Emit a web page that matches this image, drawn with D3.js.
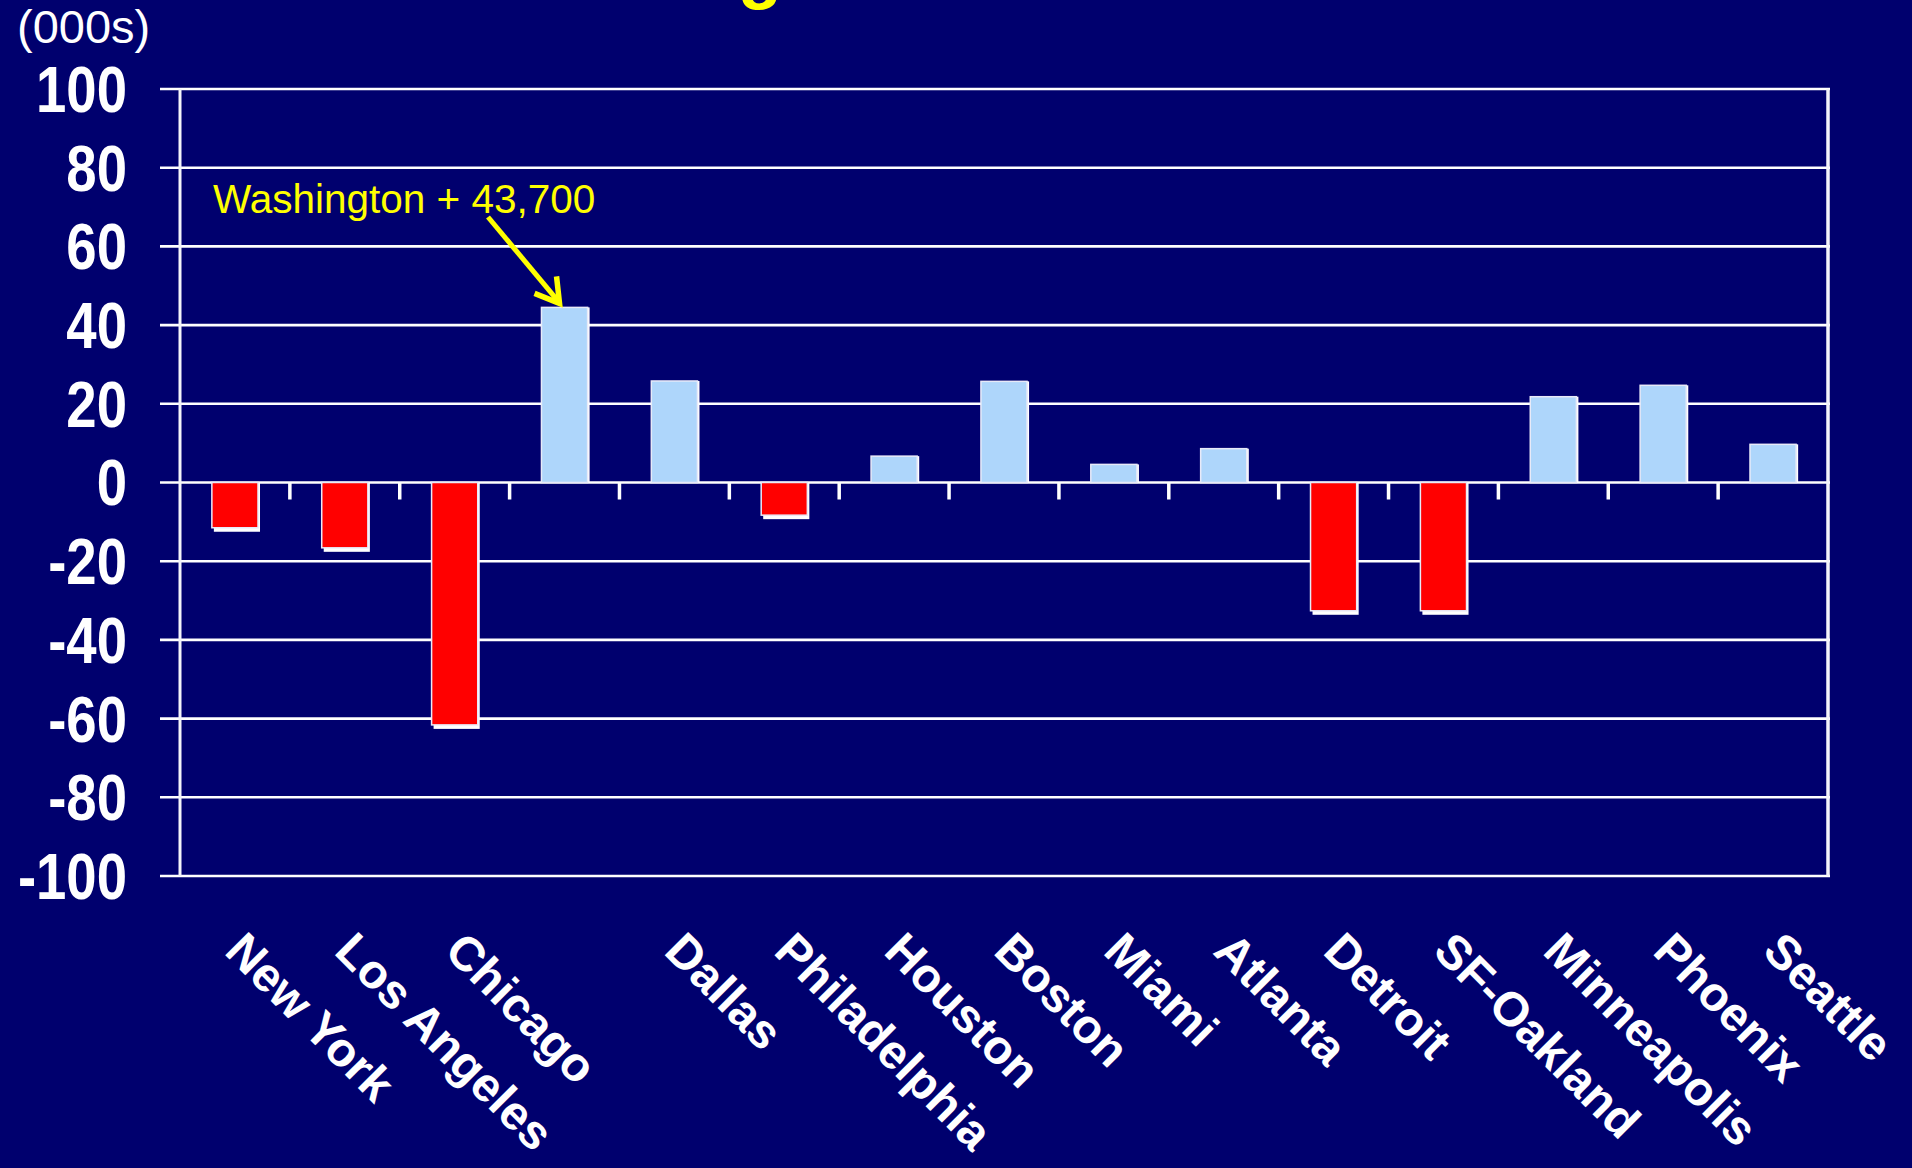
<!DOCTYPE html>
<html>
<head>
<meta charset="utf-8">
<script src="https://cdn.jsdelivr.net/npm/d3@7"></script>
<style>
  html, body { margin: 0; padding: 0; background: #00006e; }
  svg { display: block; }
  text { font-family: "Liberation Sans", Arial, sans-serif; }
</style>
</head>
<body>
<svg id="chart" width="1912" height="1168"></svg>
<script>
// ---- data ----
const categories = ["New York", "Los Angeles", "Chicago", "Washington", "Dallas", "Philadelphia",
  "Houston", "Boston", "Miami", "Atlanta", "Detroit", "SF-Oakland", "Minneapolis", "Phoenix", "Seattle"];
const tickLabels = ["New York", "Los Angeles", "Chicago", "", "Dallas", "Philadelphia",
  "Houston", "Boston", "Miami", "Atlanta", "Detroit", "SF-Oakland", "Minneapolis", "Phoenix", "Seattle"];
const values = [-11.5, -16.6, -61.6, 44.5, 25.8, -8.3, 6.7, 25.7, 4.6, 8.6, -32.6, -32.6, 21.8, 24.7, 9.7];
const yTickValues = [100, 80, 60, 40, 20, 0, -20, -40, -60, -80, -100];
const unitLabel = "(000s)";
const annotationText = "Washington + 43,700";

(function () {
  // ---- layout ----
  const svg = d3.select("#chart");
  const W = 1912, H = 1168;
  const plotLeft = 180, plotRight = 1828, plotTop = 89, plotBottom = 876;
  const bg = "#00006e", posColor = "#aed6fb", negColor = "#ff0000", yellow = "#ffff00";

  svg.append("rect").attr("width", W).attr("height", H).attr("fill", bg);

  const x = d3.scaleBand().domain(categories).range([plotLeft, plotRight]).paddingInner(0.58).paddingOuter(0.29);
  const y = d3.scaleLinear().domain([-100, 100]).range([plotBottom, plotTop]);
  const step = x.step();

  // cut-off title glyph at the very top (title itself lies above the frame)
  svg.append("text").attr("x", 738).attr("y", -5).attr("fill", yellow)
    .attr("font-size", 72).attr("font-weight", "bold").text("g");

  // gridlines (extend left of axis as tick marks)
  svg.append("g").selectAll("line").data(yTickValues).join("line")
    .attr("x1", 160).attr("x2", plotRight + 2)
    .attr("y1", d => y(d)).attr("y2", d => y(d))
    .attr("stroke", "#ffffff").attr("stroke-width", 2.6);

  // left axis & right border
  svg.append("line").attr("x1", plotLeft).attr("x2", plotLeft).attr("y1", y(100)).attr("y2", y(-100))
    .attr("stroke", "#f4f4fa").attr("stroke-width", 3);
  svg.append("line").attr("x1", plotRight).attr("x2", plotRight).attr("y1", y(100)).attr("y2", y(-100))
    .attr("stroke", "#f4f4fa").attr("stroke-width", 3.5);

  // category boundary ticks below zero line
  const boundaries = categories.slice(0, -1).map(c => x(c) + x.bandwidth() + (step - x.bandwidth()) / 2);
  svg.append("g").selectAll("line").data(boundaries).join("line")
    .attr("x1", d => d).attr("x2", d => d)
    .attr("y1", y(0)).attr("y2", y(0) + 17)
    .attr("stroke", "#ffffff").attr("stroke-width", 3.5);

  // y tick labels (slightly condensed, tall)
  svg.append("g").selectAll("text").data(yTickValues).join("text")
    .attr("transform", d => `translate(127,${y(d)}) scale(0.94,1.12)`)
    .attr("y", 20.5)
    .attr("text-anchor", "end").attr("fill", "#ffffff")
    .attr("font-size", 58).attr("font-weight", "bold")
    .text(d => d);

  svg.append("text").attr("x", 17).attr("y", 43).attr("fill", "#ffffff")
    .attr("font-size", 47).text(unitLabel);

  // bars
  const data = categories.map((c, i) => ({ c, v: values[i] }));
  const bars = svg.append("g");
  bars.selectAll("rect.shadow").data(data).join("rect").attr("class", "shadow")
    .attr("x", d => x(d.c) + 2)
    .attr("y", d => Math.min(y(d.v), y(0)))
    .attr("width", x.bandwidth())
    .attr("height", d => Math.abs(y(d.v) - y(0)) + (d.v < 0 ? 4 : 0))
    .attr("fill", "#ffffff");
  bars.selectAll("rect.bar").data(data).join("rect").attr("class", "bar")
    .attr("x", d => x(d.c))
    .attr("y", d => Math.min(y(d.v), y(0)))
    .attr("width", x.bandwidth())
    .attr("height", d => Math.abs(y(d.v) - y(0)))
    .attr("fill", d => d.v < 0 ? negColor : posColor)
    .attr("stroke", "#e8eaf8").attr("stroke-width", 1.5);

  // x labels (rotated)
  svg.append("g").selectAll("text").data(categories).join("text")
    .attr("transform", c => `translate(${x(c) + x.bandwidth() / 2 - 12},953) rotate(45)`)
    .attr("fill", "#ffffff").attr("font-size", 48).attr("font-weight", "bold")
    .text((c, i) => tickLabels[i]);

  // annotation
  svg.append("text").attr("x", 213).attr("y", 213).attr("fill", yellow)
    .attr("font-size", 40.5).text(annotationText);
  const wx = x("Washington") + x.bandwidth() / 2;
  const wy = y(values[3]);
  const tip = [wx - 5, wy - 4];
  svg.append("line").attr("x1", 488).attr("y1", 217).attr("x2", tip[0] - 2).attr("y2", tip[1] - 3)
    .attr("stroke", yellow).attr("stroke-width", 5);
  svg.append("path")
    .attr("d", `M${tip[0] - 25},${tip[1] - 10} L${tip[0]},${tip[1]} L${tip[0] - 3},${tip[1] - 27}`)
    .attr("fill", "none").attr("stroke", yellow).attr("stroke-width", 5.5)
    .attr("stroke-linejoin", "miter").attr("stroke-linecap", "butt");
})();
</script>
</body>
</html>
